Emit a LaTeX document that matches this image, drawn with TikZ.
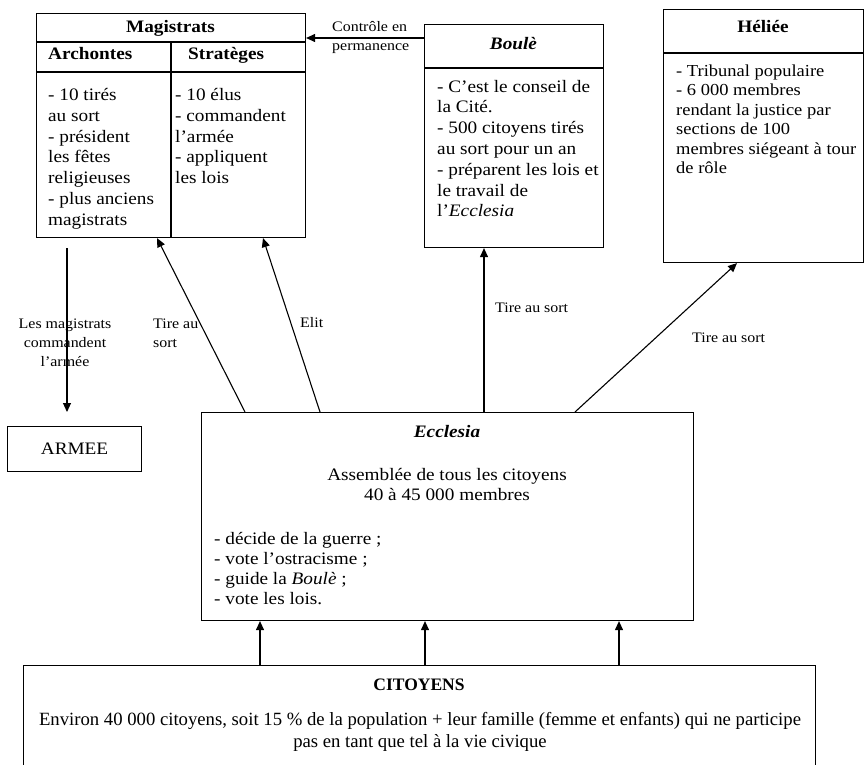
\documentclass[tikz,border=0pt]{standalone}
\usepackage{fontspec}
\setmainfont{Liberation Serif}[FakeStretch=1.1]
\newfontfamily\citfont{Liberation Serif}
\usetikzlibrary{arrows.meta,calc}
\begin{document}
\begin{tikzpicture}[x=1pt,y=-1pt,
  box/.style={draw, line width=1.1pt, inner sep=0pt, anchor=north west},
  sep/.style={line width=1.1pt},
  arr/.style={line width=1.1pt, -{Triangle[length=9pt,width=8pt]}},
  body/.style={inner sep=0pt, align=left, anchor=north west, font=\fontsize{17.5}{20.7}\selectfont},
  bodyc/.style={inner sep=0pt, align=center, anchor=north, font=\fontsize{17.5}{20.5}\selectfont},
  lab/.style={inner sep=0pt, align=left, anchor=north west, font=\fontsize{14.5}{19}\selectfont},
  labc/.style={inner sep=0pt, align=center, anchor=north, font=\fontsize{14.5}{19}\selectfont},
  ttl/.style={inner sep=0pt, anchor=base, font=\fontsize{17.5}{20.5}\selectfont\bfseries}]
\useasboundingbox (0,0) rectangle (864,765);

% boxes
\node[box, minimum width=269pt, minimum height=224pt] (mag) at (36,13) {};
\node[box, minimum width=179pt, minimum height=223pt] (boule) at (424,24) {};
\node[box, minimum width=200pt, minimum height=253pt] (heliee) at (663,9) {};
\node[box, minimum width=134pt, minimum height=45pt, font=\fontsize{17.5}{20.5}\selectfont] (armee) at (7,426) {ARMEE};
\node[box, minimum width=492pt, minimum height=208pt] (ecc) at (201,412) {};
\node[box, minimum width=792pt, minimum height=115pt] (cit) at (23,665) {};

% separators
\draw[sep] ($(mag.north west)+(0,29)$) -- ($(mag.north east)+(0,29)$);
\draw[sep] ($(mag.north west)+(0,59)$) -- ($(mag.north east)+(0,59)$);
\draw[sep] ($(mag.north west)+(135,29)$) -- ($(mag.south west)+(135,0)$);
\draw[sep] ($(boule.north west)+(0,44)$) -- ($(boule.north east)+(0,44)$);
\draw[sep] ($(heliee.north west)+(0,44)$) -- ($(heliee.north east)+(0,44)$);

% titles
\node[ttl] (tmag) at (170.5,33) {Magistrats};
\node[ttl, anchor=base west] (tarch) at (48,60) {Archontes};
\node[ttl, anchor=base west] (tstrat) at (188,60) {Stratèges};
\node[ttl, font=\fontsize{17.5}{20.5}\selectfont\bfseries\itshape] (tboule) at (513.5,50) {Boulè};
\node[ttl] (thel) at (763,33) {Héliée};
\node[ttl, font=\fontsize{17.5}{20.5}\selectfont\bfseries\itshape] (tecc) at (447,437) {Ecclesia};
\node[ttl, font=\fontsize{17.5}{22}\selectfont\citfont\bfseries] (tcit) at (419,690) {CITOYENS};

% body texts
\node[body] (xarch) at (48,86.2) {\strut- 10 tirés\\au sort\\- président\\les fêtes\\religieuses\\- plus anciens\\magistrats};
\node[body] (xstrat) at (175,86.2) {\strut- 10 élus\\- commandent\\l’armée\\- appliquent\\ les lois};
\node[body, font=\fontsize{17.5}{20.8}\selectfont] (xboule) at (437,77.4) {\strut- C’est le conseil de\\la Cité.\\- 500 citoyens tirés\\au sort pour un an\\- préparent les lois et\\le travail de\\l’\textit{Ecclesia}};
\node[body, font=\fontsize{16.8}{19.5}\selectfont] (xhel) at (676,62.35) {\strut- Tribunal populaire\\- 6 000 membres\\rendant la justice par\\sections de 100\\membres siégeant à tour\\de rôle};
\node[bodyc] (xecc1) at (447,465.65) {\strut Assemblée de tous les citoyens\\40 à 45 000 membres};
\node[body, font=\fontsize{17.5}{20.2}\selectfont] (xecc2) at (214,529.9) {\strut- décide de la guerre ;\\- vote l’ostracisme ;\\- guide la \textit{Boulè} ;\\- vote les lois.};
\node[inner sep=0pt, align=center, anchor=north, font=\fontsize{18.7}{22}\selectfont\citfont] (xcit) at (420,710) {\strut Environ 40 000 citoyens, soit 15 \% de la population + leur famille (femme et enfants) qui ne participe\\pas en tant que tel à la vie civique};

% connectors
\coordinate (bstart) at ($(boule.north west)+(0,14)$);
\draw[arr] (bstart) -- (bstart -| mag.east);
\draw[arr] ($(mag.south west)+(31,10)$) -- ($(armee.north west)+(60,-14)$);
\draw[arr] ($(ecc.north west)+(44,0)$) -- ($(mag.south west)+(121,0)$);
\draw[arr] ($(ecc.north west)+(119,0)$) -- ($(mag.south west)+(227,0)$);
\draw[arr] ($(ecc.north west)+(283,0)$) -- ($(boule.south west)+(60,0)$);
\draw[arr] ($(ecc.north west)+(374,0)$) -- ($(heliee.south west)+(74,0)$);
\draw[arr] ($(cit.north west)+(237,0)$) -- ($(ecc.south west)+(59,0)$);
\draw[arr] ($(cit.north west)+(402,0)$) -- ($(ecc.south west)+(224,0)$);
\draw[arr] ($(cit.north west)+(596,0)$) -- ($(ecc.south west)+(418,0)$);

% labels
\node[lab] (lctrl) at (332,17.7) {\strut Contrôle en\\permanence};
\node[labc] (lmag) at (65,314.7) {\strut Les magistrats\\commandent\\l’armée};
\node[lab] (ltas1) at (153,314.7) {\strut Tire au\\sort};
\node[lab] (lelit) at (300,313.7) {\strut Elit};
\node[lab] (ltas2) at (495,298.7) {\strut Tire au sort};
\node[lab] (ltas3) at (692,328.7) {\strut Tire au sort};
\end{tikzpicture}
\end{document}
